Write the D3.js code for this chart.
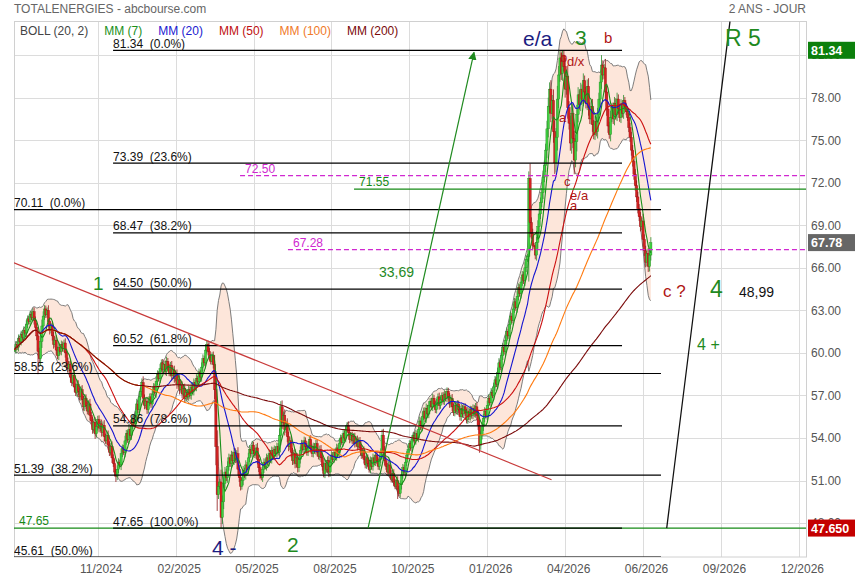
<!DOCTYPE html>
<html>
<head>
<meta charset="utf-8">
<script src="https://cdn.jsdelivr.net/npm/d3@7/dist/d3.min.js"></script>
<style>
  body { margin: 0; background: #fff; }
  svg { font-family: "Liberation Sans", Arial, sans-serif; }
</style>
</head>
<body>
<svg id="chart" width="855" height="580"></svg>
<script>
// daily closes (aug 2024 -> june 2026)
var closes = [
  60.2, 60.6, 60.4, 61.0, 60.8, 61.3, 61.1, 61.6, 61.4, 62.0,
  62.4, 62.2, 62.7, 62.5, 62.9, 62.3, 61.8, 61.2, 60.1, 59.6,
  60.8, 61.9, 62.6, 63.1, 62.7, 63.0, 62.2, 61.6, 61.9, 61.2,
  60.6, 60.9, 60.2, 59.8, 60.4, 60.1, 60.6, 60.3, 60.7, 60.0,
  59.4, 58.9, 59.2, 58.3, 57.9, 58.4, 57.6, 57.2, 57.8, 57.3,
  56.9, 57.4, 56.7, 56.2, 56.8, 56.3, 55.9, 56.4, 55.6, 55.2,
  54.6, 55.1, 54.3, 54.8, 55.3, 54.7, 55.0, 54.4, 54.9, 54.1,
  53.8, 54.2, 53.5, 53.0, 53.4, 52.6, 52.2, 51.6, 51.3, 51.8,
  52.3, 52.1, 52.9, 53.3, 53.0, 53.8, 54.3, 53.9, 54.6, 54.2,
  54.9, 55.4, 55.0, 55.6, 56.4, 56.0, 56.9, 57.3, 57.9, 56.8,
  56.3, 56.6, 56.0, 56.5, 56.9, 56.4, 57.1, 57.6, 57.2, 58.0,
  58.5, 58.2, 58.9, 59.3, 58.8, 59.2, 58.7, 59.4, 59.0, 58.6,
  59.1, 58.4, 58.8, 58.2, 58.5, 57.8, 58.1, 57.4, 57.7, 57.1,
  57.5, 56.8, 57.2, 56.9, 57.4, 57.0, 57.6, 57.3, 57.9, 57.6,
  58.2, 58.0, 58.6, 58.3, 59.0, 59.6, 59.3, 60.2, 60.6, 60.1,
  59.7, 59.4, 59.8, 59.2, 57.4, 53.4, 50.0, 50.6, 50.9, 48.4,
  49.5, 50.8, 51.6, 51.2, 52.0, 52.6, 52.2, 52.8, 52.4, 53.0,
  52.5, 52.9, 51.8, 51.2, 50.6, 51.0, 51.7, 51.4, 52.1, 51.8,
  52.6, 53.2, 52.9, 53.5, 53.1, 52.8, 53.3, 52.5, 51.9, 51.4,
  51.2, 51.8, 52.3, 52.0, 52.6, 52.3, 52.9, 52.5, 53.1, 52.7,
  53.2, 52.9, 53.4, 53.0, 54.2, 56.2, 55.1, 55.6, 54.6, 55.0,
  54.1, 53.4, 53.8, 53.0, 52.4, 52.9, 52.2, 52.6, 51.9, 52.5,
  53.1, 53.6, 53.2, 53.8, 53.4, 53.0, 53.5, 53.9, 53.3, 52.9,
  53.4, 53.1, 53.6, 53.0, 52.7, 53.2, 52.6, 52.0, 51.5, 52.2,
  51.8, 52.4, 51.6, 52.3, 52.8, 52.5, 53.0, 52.7, 53.3, 52.9,
  53.6, 54.0, 53.7, 54.3, 54.0, 54.6, 54.9, 54.4, 53.9, 54.2,
  53.8, 54.1, 53.6, 53.9, 53.4, 53.8, 53.3, 52.8, 53.1, 52.5,
  52.1, 52.6, 52.2, 51.8, 52.4, 52.0, 52.6, 52.3, 52.8, 52.4,
  52.0, 52.5, 53.0, 54.2, 53.1, 52.4, 52.0, 51.6, 52.1, 51.5,
  51.1, 51.5, 50.9, 50.6, 51.0, 50.4, 50.1, 50.7, 51.4, 51.9,
  51.6, 52.3, 52.8, 53.2, 53.6, 53.3, 53.9, 54.2, 53.8, 54.3,
  54.0, 54.6, 55.2, 54.8, 55.5, 55.9, 55.4, 56.1, 55.7, 56.3,
  56.6, 56.2, 56.8, 56.4, 56.0, 56.5, 56.9, 56.3, 56.7, 57.0,
  56.6, 57.1, 56.8, 57.3, 56.9, 56.4, 56.8, 56.2, 55.8, 56.3,
  55.9, 56.4, 56.0, 55.5, 56.1, 55.7, 56.2, 55.8, 55.3, 55.9,
  55.5, 56.0, 55.6, 56.1, 55.7, 56.2, 55.6, 54.9, 53.5, 54.2,
  54.8, 55.4, 55.9, 55.6, 56.3, 56.8, 56.5, 57.2, 57.0, 57.6,
  58.1, 57.8, 58.6, 59.3, 59.0, 59.8, 60.4, 60.1, 60.9, 61.5,
  61.2, 62.0, 62.6, 62.3, 63.1, 63.6, 63.2, 64.0, 64.6, 64.2,
  65.0, 65.5, 65.1, 66.0, 66.6, 66.8, 72.3, 69.2, 68.4, 67.6,
  67.5, 66.9, 67.8, 68.9, 69.8, 70.6, 71.3, 72.4, 73.2, 74.3,
  75.8, 77.4, 78.6, 76.9, 77.8, 75.6, 73.4, 75.2, 77.9, 79.6,
  80.8, 79.7, 81.0, 80.2, 78.6, 79.5, 77.3, 76.2, 74.8, 76.9,
  75.1, 73.6, 74.9, 76.8, 78.2, 77.5, 78.6, 77.9, 79.2, 78.4,
  77.6, 78.8, 77.3, 76.5, 77.4, 76.1, 75.4, 76.3, 75.6, 76.8,
  77.9, 79.1, 80.3, 79.6, 80.1, 78.4, 77.2, 76.0, 75.4, 76.6,
  77.3, 76.5, 77.6, 76.8, 77.9, 77.2, 76.6, 77.5, 76.9, 77.8,
  77.4, 77.0, 76.6, 75.9, 75.2, 74.3, 73.5, 72.6, 71.8, 71.0,
  70.2, 69.6, 68.9, 69.3, 68.0, 67.2, 66.4, 67.0, 66.1, 66.9,
  67.78
];

// the long shadows that stand out
var spikeHighs = [[98, 58.2], [205, 56.6], [283, 54.6], [396, 72.8], [422, 81.34], [452, 81.0]];
var spikeLows = [[18, 58.5], [78, 50.9], [159, 47.65], [295, 49.7], [431, 72.6]];

var maPeriods = [7, 20, 50, 100, 200];
var legendLabels = ["BOLL (20, 2)", "MM (7)", "MM (20)", "MM (50)", "MM (100)", "MM (200)"];

var xTickLabels = ["11/2024", "02/2025", "05/2025", "08/2025", "10/2025", "01/2026", "04/2026", "06/2026", "09/2026", "12/2026"];
var yTickValues = [48, 51, 54, 57, 60, 63, 66, 69, 72, 75, 78, 81];

// fibonacci retracements
var fibUpper = [81.34, 73.39, 68.47, 64.50, 60.52, 54.86, 47.65];
var fibUpperPct = ["0.0%", "23.6%", "38.2%", "50.0%", "61.8%", "78.6%", "100.0%"];
var fibLower = [70.11, 58.55, 51.39, 45.61];
var fibLowerPct = ["0.0%", "23.6%", "38.2%", "50.0%"];

// horizontal levels: [value, first day]
var targetLevels = [[72.50, 173.6], [67.28, 210.5]];
var supportLevels = [[71.55, 261.4], [47.65, -0.5]];

// drawn lines: [day, value] -> [day, value]
var trendLine = [[-0.5, 66.35], [413.5, 51.06]];
var moveArrow = [[272.2, 47.65], [353.8, 81.2]];
var wave5Line = [[502.2, 47.65], [551.0, 83.4]];

// wave counts and notes: [text, day, value, kind]
var notes = [
  ["1", 60.3, 64.44, "waveM"],
  ["2", 209.8, 45.96, "waveL"],
  ["3", 431.6, 81.71, "waveL"],
  ["4 -", 152.0, 45.75, "altL"],
  ["e/a", 391.5, 81.64, "altL"],
  ["R 5", 547.1, 81.64, "waveXL"],
  ["4", 535.6, 63.94, "waveXL"],
  ["4 +", 525.6, 60.21, "waveS"],
  ["c ?", 499.4, 63.94, "subL"],
  ["48,99", 557.9, 63.94, "plain"],
  ["33,69", 280.6, 65.36, "waveXS"],
  ["b", 420.0, 80.51, "subS"],
  ["d/x", 425.4, 80.23, "subS"],
  ["a", 419.3, 76.28, "subS"],
  ["c", 423.1, 71.77, "subS"],
  ["e/a", 427.8, 70.78, "subS"],
  ["a", 427.8, 70.08, "subS"],
  ["b", 453.9, 81.85, "subM"]
];

var priceTags = [[81.34, "81.34", "high"], [67.78, "67.78", "last"], [47.65, "47.650", "low"]];

var noteStyle = {
  waveM: { color: "#1f8a1f", size: 19 },
  waveL: { color: "#1f8a1f", size: 21 },
  waveXL: { color: "#1f8a1f", size: 23 },
  waveS: { color: "#1f8a1f", size: 16 },
  waveXS: { color: "#1f8a1f", size: 14 },
  altL: { color: "#1c1c80", size: 21 },
  subL: { color: "#b01515", size: 17 },
  subM: { color: "#b01515", size: 15 },
  subS: { color: "#b01515", size: 13 },
  plain: { color: "#111", size: 14 }
};
var tagColor = { high: "#0c800c", last: "#666666", low: "#c40000" };
var maColor = ["#1a8f1a", "#1515d0", "#cc1010", "#ff7a10", "#7a0a0a"];
var legendColor = ["#444", "#1a8f1a", "#2020d0", "#c01010", "#f07a28", "#7a0a0a"];

var svg = d3.select("#chart");
var plotLeft = 14, plotRight = 806, plotTop = 21.5, plotBottom = 557;

var x = d3.scaleLinear().domain([-0.5, 609.5]).range([plotLeft, plotRight]);
var y = d3.scaleLinear().domain([45.61, 83.37]).range([plotBottom, plotTop]);
var tickDays = xTickLabels.map(function (d, i) { return 64 + 60 * i; });

function sma(values, n) {
  return values.map(function (v, i) {
    return d3.mean(values.slice(Math.max(0, i - n + 1), i + 1));
  });
}

function bollinger(values, n, k) {
  return values.map(function (v, i) {
    var w = values.slice(Math.max(0, i - n + 1), i + 1);
    var m = d3.mean(w);
    var sd = Math.sqrt(d3.mean(w, function (d) { return (d - m) * (d - m); }));
    return { mid: m, up: m + k * sd, low: m - k * sd };
  });
}

var candles = closes.map(function (c, i) {
  var o = i ? closes[i - 1] : c;
  var pad = 0.12 + 0.3 * Math.abs(c - o);
  return { i: i, o: o, c: c, h: Math.max(o, c) + pad, l: Math.min(o, c) - pad };
});
spikeHighs.forEach(function (s) { candles[s[0]].h = s[1]; });
spikeLows.forEach(function (s) { candles[s[0]].l = s[1]; });

var band = bollinger(closes, 20, 2);
var averages = maPeriods.map(function (p) { return sma(closes, p); });

// grid
var grid = svg.append("g").attr("stroke", "#dcdcdc").attr("stroke-width", 1);
grid.selectAll(".vg").data(tickDays).enter().append("line")
  .attr("x1", function (d) { return Math.round(x(d)) + 0.5; })
  .attr("x2", function (d) { return Math.round(x(d)) + 0.5; })
  .attr("y1", plotTop).attr("y2", plotBottom);
grid.selectAll(".hg").data(yTickValues).enter().append("line")
  .attr("x1", plotLeft).attr("x2", plotRight)
  .attr("y1", function (d) { return Math.round(y(d)) + 0.5; })
  .attr("y2", function (d) { return Math.round(y(d)) + 0.5; });
svg.append("rect")
  .attr("x", plotLeft + 0.5).attr("y", plotTop).attr("width", plotRight - plotLeft).attr("height", plotBottom - plotTop)
  .attr("fill", "none").attr("stroke", "#d0d0d0");

// header
svg.append("text").attr("x", 14).attr("y", 13).attr("font-size", 12).attr("fill", "#666")
  .text("TOTALENERGIES - abcbourse.com");
svg.append("text").attr("x", 806).attr("y", 13).attr("font-size", 12).attr("fill", "#666")
  .attr("text-anchor", "end").text("2 ANS - JOUR");

var lx = 20;
legendLabels.forEach(function (t, i) {
  var node = svg.append("text").attr("x", lx).attr("y", 35).attr("font-size", 12)
    .attr("fill", legendColor[i]).text(t);
  lx += node.node().getComputedTextLength() + 16;
});

svg.append("defs").append("clipPath").attr("id", "plot")
  .append("rect").attr("x", plotLeft).attr("y", plotTop).attr("width", plotRight - plotLeft).attr("height", plotBottom - plotTop);
svg.select("defs").append("marker")
  .attr("id", "arrow").attr("viewBox", "0 0 10 10").attr("refX", 9).attr("refY", 5)
  .attr("markerWidth", 7).attr("markerHeight", 7).attr("orient", "auto")
  .append("path").attr("d", "M0,0 L10,5 L0,10 z").attr("fill", "#1f8a1f");

var plot = svg.append("g").attr("clip-path", "url(#plot)");

plot.append("path").datum(band)
  .attr("fill", "#fde6da")
  .attr("d", d3.area()
    .x(function (d, i) { return x(i); })
    .y0(function (d) { return y(d.low); })
    .y1(function (d) { return y(d.up); }));
["up", "low"].forEach(function (key) {
  plot.append("path").datum(band)
    .attr("fill", "none").attr("stroke", "#6e6e6e").attr("stroke-width", 0.9)
    .attr("d", d3.line()
      .x(function (d, i) { return x(i); })
      .y(function (d) { return y(d[key]); }));
});

var candle = plot.selectAll(".candle").data(candles).enter().append("g");
candle.append("line")
  .attr("x1", function (d) { return x(d.i); })
  .attr("x2", function (d) { return x(d.i); })
  .attr("y1", function (d) { return y(d.h); })
  .attr("y2", function (d) { return y(d.l); })
  .attr("stroke", function (d) { return d.c >= d.o ? "#2a8a2a" : "#8e1414"; })
  .attr("stroke-width", 0.8);
candle.append("rect")
  .attr("x", function (d) { return x(d.i) - 1.1; })
  .attr("width", 2.2)
  .attr("y", function (d) { return y(Math.max(d.o, d.c)); })
  .attr("height", function (d) { return Math.max(1, Math.abs(y(d.o) - y(d.c))); })
  .attr("fill", function (d) { return d.c >= d.o ? "#3fd03f" : "#d42222"; })
  .attr("stroke", function (d) { return d.c >= d.o ? "#268a26" : "#9a1414"; })
  .attr("stroke-width", 0.4);

averages.forEach(function (series, k) {
  plot.append("path").datum(series)
    .attr("fill", "none").attr("stroke", maColor[k]).attr("stroke-width", 1.1)
    .attr("d", d3.line()
      .x(function (d, i) { return x(i); })
      .y(function (d) { return y(d); }));
});

// drawings
function segment(pts, color, width) {
  return plot.append("line")
    .attr("x1", x(pts[0][0])).attr("y1", y(pts[0][1]))
    .attr("x2", x(pts[1][0])).attr("y2", y(pts[1][1]))
    .attr("stroke", color).attr("stroke-width", width);
}

supportLevels.forEach(function (l) {
  segment([[l[1], l[0]], [609.5, l[0]]], "#168a16", 1.2);
  plot.append("text").attr("x", x(l[1]) + 5).attr("y", y(l[0]) - 3)
    .attr("font-size", 12).attr("fill", "#168a16").text(l[0].toFixed(2));
});
targetLevels.forEach(function (l) {
  segment([[l[1], l[0]], [609.5, l[0]]], "#d028d0", 1.2).attr("stroke-dasharray", "5,3");
  plot.append("text").attr("x", x(l[1]) + 5).attr("y", y(l[0]) - 3)
    .attr("font-size", 12).attr("fill", "#d028d0").text(l[0].toFixed(2));
});

fibUpper.forEach(function (v, i) {
  segment([[75.8, v], [467.8, v]], "#000", 1.2);
  plot.append("text").attr("x", x(75.8)).attr("y", y(v) - 2.5)
    .attr("font-size", 12).attr("fill", "#111").style("white-space", "pre")
    .text(v.toFixed(2) + "  (" + fibUpperPct[i] + ")");
});
fibLower.forEach(function (v, i) {
  segment([[-0.5, v], [497.8, v]], "#000", 1.2);
  plot.append("text").attr("x", x(-0.5)).attr("y", y(v) - 2.5)
    .attr("font-size", 12).attr("fill", "#111").style("white-space", "pre")
    .text(v.toFixed(2) + "  (" + fibLowerPct[i] + ")");
});

segment(trendLine, "#c83a3a", 1.2);
segment(moveArrow, "#1f8a1f", 1.2).attr("marker-end", "url(#arrow)");
segment(wave5Line, "#111", 1.3);

notes.forEach(function (n) {
  var st = noteStyle[n[3]];
  svg.append("text").attr("x", x(n[1])).attr("y", y(n[2]))
    .attr("font-size", st.size).attr("fill", st.color).style("white-space", "pre")
    .text(n[0]);
});

// axes
var xAxis = svg.append("g").attr("transform", "translate(0," + plotBottom + ")")
  .call(d3.axisBottom(x).tickValues(tickDays)
    .tickFormat(function (d, i) { return xTickLabels[i]; })
    .tickSize(0).tickPadding(7));
xAxis.select(".domain").remove();
xAxis.selectAll("text").attr("font-size", 12).attr("fill", "#555").attr("dx", 3)
  .attr("font-family", "Liberation Sans, Arial, sans-serif");

var yAxis = svg.append("g").attr("transform", "translate(" + plotRight + ",0)")
  .call(d3.axisRight(y).tickValues(yTickValues).tickFormat(d3.format(".2f"))
    .tickSize(0).tickPadding(5));
yAxis.select(".domain").remove();
yAxis.selectAll("text").attr("font-size", 12).attr("fill", "#555")
  .attr("font-family", "Liberation Sans, Arial, sans-serif");

priceTags.forEach(function (t) {
  svg.append("rect").attr("x", plotRight + 2).attr("y", y(t[0]) - 8.5)
    .attr("width", 855 - plotRight - 2).attr("height", 17).attr("fill", tagColor[t[2]]);
  svg.append("text").attr("x", plotRight + 5).attr("y", y(t[0]) + 4.5)
    .attr("font-size", 12.5).attr("font-weight", "bold").attr("fill", "#fff").text(t[1]);
});
</script>
</body>
</html>
